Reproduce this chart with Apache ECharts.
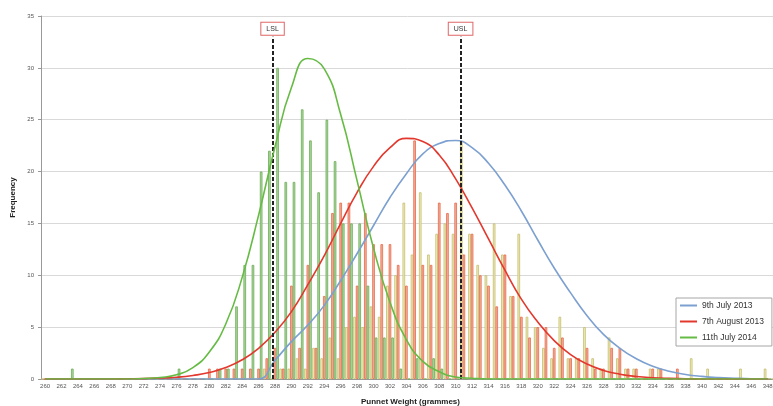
<!DOCTYPE html>
<html>
<head>
<meta charset="utf-8">
<title>Punnet Weight</title>
<script src="https://cdn.jsdelivr.net/npm/echarts@6/dist/echarts.min.js"></script>
<style>
html, body {margin: 0; padding: 0; background: #fff; overflow: hidden;}
#chart {width: 773px; height: 406px;}
</style>
</head>
<body>
<div id="chart"></div>
<script>
// weights 260 .. 349 (one bar group per gram)
var weights = [];
for (var w = 260; w <= 349; w++) {
    weights.push(String(w));
}

// histogram counts, index 0 = 260g
var jul2013 = [
    0,0,0,0,0,0,0,0,0,0,
    0,0,0,0,0,0,0,0,0,0,
    0,0,0,0,0,0,0,1,0,1,
    1,2,1,3,2,4,2,5,6,5,
    7,6,9,10,17,12,18,12,14,15,
    14,23,14,11,10,15,12,8,14,6,
    5,3,2,6,2,2,5,2,1,4,
    2,1,1,0,1,1,0,0,0,2,
    0,1,0,0,0,1,0,0,1,0
];
var aug2013 = [
    0,0,0,0,0,0,0,0,0,0,
    0,0,0,0,0,0,0,0,0,0,
    1,1,1,1,1,1,1,2,3,1,
    9,3,11,3,8,16,17,17,9,16,
    13,13,13,11,9,23,11,11,17,16,
    17,12,14,10,9,7,12,8,6,4,
    5,5,3,4,2,2,3,1,1,3,
    3,1,1,0,1,1,0,1,0,0,
    0,0,0,0,0,0,0,0,0,0
];
var jul2014 = [
    0,0,0,1,0,0,0,0,0,0,
    0,0,0,0,0,0,1,0,0,0,
    0,1,1,7,11,11,20,22,30,19,
    19,26,23,18,25,21,15,15,15,9,
    4,4,4,1,0,2,0,2,1,0,
    0,0,0,0,0,0,0,0,0,0,
    0,0,0,0,0,0,0,0,0,0,
    0,0,0,0,0,0,0,0,0,0,
    0,0,0,0,0,0,0,0,0,0
];

// fitted curves read at every labelled weight
var curveX = [260,262,264,266,268,270,272,274,276,278,280,282,284,286,288,290,292,294,296,298,
    300,302,304,306,308,310,312,314,316,318,320,322,324,326,328,330,332,334,336,338,
    340,342,344,346,348];
var fitJul2013 = [0,0,0,0,0,0,0,0,0,0,0,0,0,0,1.8,3.6,5.2,7.1,9.5,12.1,
    14.8,17.5,19.8,21.7,22.7,23.0,22.3,20.8,18.7,16.2,13.4,10.7,8.3,6.1,4.3,2.96,1.95,1.23,0.75,0.44,
    0.25,0.13,0.07,0.03,0.02];
var fitAug2013 = [0,0,0,0,0,0.02,0.04,0.09,0.17,0.34,0.62,1.1,1.85,2.96,4.5,6.5,9.1,11.9,15.0,18.0,
    20.5,22.3,23.2,22.9,21.6,19.3,16.5,13.5,10.5,7.7,5.5,3.7,2.35,1.44,0.83,0.46,0.24,0.12,0.06,0.03,
    0,0,0,0,0];
var fitJul2014 = [0,0,0,0,0,0,0.05,0.15,0.4,1.1,2.6,5.3,9.8,15.8,22.4,28.1,30.9,29.9,25.5,19.1,
    12.6,7.4,3.8,1.7,0.7,0.2,0.07,0,0,0,0,0,0,0,0,0,0,0,0,0,
    0,0,0,0,0];

var names = ['9th July 2013', '7th August 2013', '11th July 2014'];
// spec limits as drawn (slightly off the gram ticks in the original)
var lslAt = 287.7, uslAt = 310.6;

function pairs(vals) {
    var out = [];
    for (var i = 0; i < curveX.length; i++) {
        out.push([String(curveX[i]), vals[i]]);
    }
    return out;
}

function barSeries(name, data, fill, border) {
    return {
        name: name + ' bars',
        type: 'bar',
        data: data,
        barGap: '0%',
        barCategoryGap: '6%',
        itemStyle: {color: fill, borderColor: border, borderWidth: 0.8},
        z: 2
    };
}

function specLine(x, txt) {
    return [
        {coord: [x, 0]},
        {coord: [x, 33], label: {formatter: txt}}
    ];
}

var myChart = echarts.init(document.getElementById('chart'));
var option = {
    animation: false,
    grid: {left: 41, top: 16, bottom: 27, width: 739, outerBoundsMode: 'none', containLabel: false},
    legend: {
        data: names,
        orient: 'vertical',
        left: 676,
        top: 298,
        icon: 'rect',
        itemWidth: 17,
        itemHeight: 2,
        itemGap: 7,
        padding: [3, 8, 4, 4],
        backgroundColor: '#fff',
        borderColor: '#a6a6a6',
        borderWidth: 1,
        textStyle: {fontSize: 8.5, color: '#333', fontFamily: 'Liberation Sans'}
    },
    xAxis: [{
        type: 'category',
        data: weights,
        name: 'Punnet Weight (grammes)',
        nameLocation: 'middle',
        nameGap: 19,
        nameTextStyle: {fontSize: 8, fontWeight: 'bold', color: '#222', fontFamily: 'Liberation Sans'},
        axisLine: {lineStyle: {color: '#999'}},
        axisTick: {show: false},
        axisLabel: {interval: 1, fontSize: 6, color: '#555', margin: 4, fontFamily: 'Liberation Sans'}
    }, {
        type: 'value',
        min: 259.5,
        max: 349.5,
        show: false
    }],
    yAxis: {
        type: 'value',
        min: 0,
        max: 35,
        interval: 5,
        name: 'Frequency',
        nameLocation: 'middle',
        nameGap: 14,
        nameTextStyle: {fontSize: 8, fontWeight: 'bold', color: '#222', fontFamily: 'Liberation Sans'},
        axisLine: {show: true, lineStyle: {color: '#999'}},
        axisTick: {show: true, length: 3, lineStyle: {color: '#999'}},
        axisLabel: {fontSize: 6, color: '#555', margin: 7, fontFamily: 'Liberation Sans'},
        splitLine: {lineStyle: {color: '#d9d9d9', width: 1}}
    },
    series: [
        barSeries(names[0], jul2013, '#f1eebb', '#c4bd6c'),
        barSeries(names[1], aug2013, '#f5b0a4', '#e56a45'),
        barSeries(names[2], jul2014, '#afd6a0', '#69ad56'),
        {
            name: names[0], type: 'line', data: pairs(fitJul2013), smooth: true,
            symbol: 'none', z: 4, color: '#7ca0d0', lineStyle: {width: 1.6, color: '#7ca0d0'}
        },
        {
            name: names[1], type: 'line', data: pairs(fitAug2013), smooth: true,
            symbol: 'none', z: 4, color: '#e2382e', lineStyle: {width: 1.6, color: '#e2382e'}
        },
        {
            name: names[2], type: 'line', data: pairs(fitJul2014), smooth: true,
            symbol: 'none', z: 5, color: '#66bb44', lineStyle: {width: 1.6, color: '#66bb44'}
        },
        {
            name: 'spec limits',
            type: 'line',
            xAxisIndex: 1,
            data: [],
            z: 6,
            markLine: {
                silent: true,
                symbol: 'none',
                lineStyle: {color: '#222', width: 2, type: [4, 2]},
                label: {
                    position: 'end',
                    distance: 2,
                    fontSize: 7,
                    color: '#333',
                    fontFamily: 'Liberation Sans',
                    backgroundColor: '#fff',
                    borderColor: '#e06666',
                    borderWidth: 1,
                    padding: [3, 5, 2, 5]
                },
                data: [specLine(lslAt, 'LSL'), specLine(uslAt, 'USL')]
            }
        }
    ]
};
myChart.setOption(option);
</script>
</body>
</html>
